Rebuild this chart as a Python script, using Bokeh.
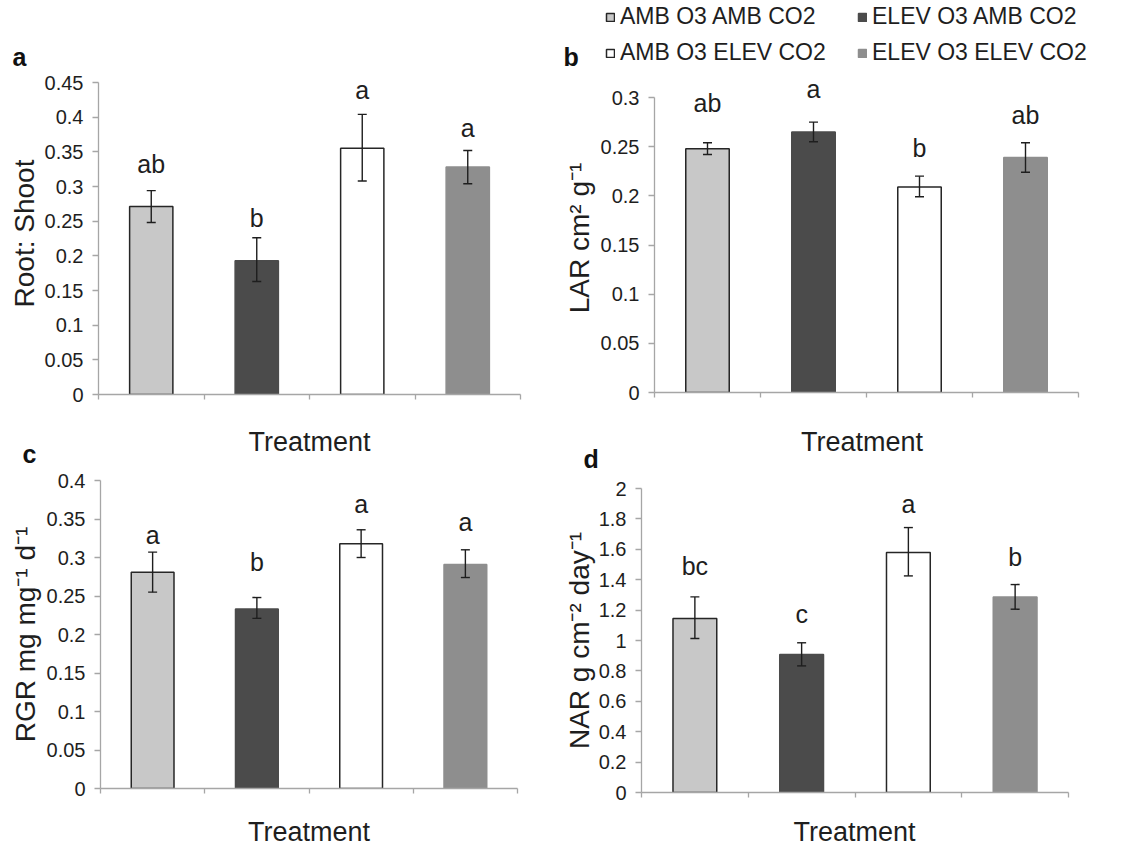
from bokeh.plotting import figure
from bokeh.models import (Range1d, FixedTicker, CustomJSTickFormatter, ColumnDataSource,
                          Whisker, TeeHead, Legend, LegendItem, Label)
from bokeh.layouts import row, column
from bokeh.embed import file_html
from bokeh.resources import INLINE
from bokeh.core.properties import value

FONT = "Liberation Sans"

# ---------------- data ----------------
treatments = ["AMB O3 AMB CO2", "ELEV O3 AMB CO2", "AMB O3 ELEV CO2", "ELEV O3 ELEV CO2"]
fill_colors = ["#c8c8c8", "#4b4b4b", "#ffffff", "#8e8e8e"]
line_colors = ["#262626", "#4b4b4b", "#262626", "#8e8e8e"]

# a: Root:Shoot
rs_mean = [0.271, 0.193, 0.355, 0.328]
rs_low = [0.248, 0.163, 0.308, 0.304]
rs_high = [0.294, 0.226, 0.404, 0.352]
rs_letters = ["ab", "b", "a", "a"]
rs_letter_y = [0.319, 0.241, 0.426, 0.372]
rs_ticks = [0, 0.05, 0.1, 0.15, 0.2, 0.25, 0.3, 0.35, 0.4, 0.45]

# b: LAR
lar_mean = [0.248, 0.265, 0.209, 0.239]
lar_low = [0.242, 0.255, 0.199, 0.224]
lar_high = [0.254, 0.275, 0.220, 0.254]
lar_letters = ["ab", "a", "b", "ab"]
lar_letter_y = [0.285, 0.299, 0.239, 0.273]
lar_ticks = [0, 0.05, 0.1, 0.15, 0.2, 0.25, 0.3]

# c: RGR
rgr_mean = [0.281, 0.233, 0.318, 0.291]
rgr_low = [0.255, 0.221, 0.300, 0.274]
rgr_high = [0.307, 0.248, 0.336, 0.310]
rgr_letters = ["a", "b", "a", "a"]
rgr_letter_y = [0.318, 0.283, 0.358, 0.335]
rgr_ticks = [0, 0.05, 0.1, 0.15, 0.2, 0.25, 0.3, 0.35, 0.4]

# d: NAR
nar_mean = [1.145, 0.908, 1.579, 1.287]
nar_low = [1.013, 0.833, 1.425, 1.206]
nar_high = [1.287, 0.985, 1.743, 1.368]
nar_letters = ["bc", "c", "a", "b"]
nar_letter_y = [1.428, 1.112, 1.836, 1.493]
nar_ticks = [0, 0.2, 0.4, 0.6, 0.8, 1, 1.2, 1.4, 1.6, 1.8, 2]

x_label = "Treatment"
AXIS_GRAY = "#a6a6a6"
TEXT = "#1e1e1e"


def make_panel(mean, low, high, letters, letter_y, ticks, ylabel,
               width, height, b_left, b_right, b_top, b_bottom, pad, ylabel_standoff):
    frame_h = height - b_top - b_bottom
    y_end = ticks[-1] * frame_h / (frame_h - pad)   # head-room for letters above top tick
    p = figure(width=width, height=height, output_backend="svg", toolbar_location=None,
               x_range=Range1d(0, len(mean)), y_range=Range1d(0, y_end),
               min_border_left=b_left, min_border_right=b_right,
               min_border_top=b_top, min_border_bottom=b_bottom)
    p.outline_line_color = None
    p.xgrid.visible = False
    p.ygrid.visible = False
    p.background_fill_color = "white"
    p.border_fill_color = "white"

    xs = [i + 0.5 for i in range(len(mean))]
    src = ColumnDataSource(dict(x=xs, top=mean, lower=low, upper=high,
                                fill=fill_colors, line=line_colors,
                                letters=letters, ly=letter_y))
    p.vbar(x="x", top="top", bottom=0, width=0.41, fill_color="fill",
           line_color="line", line_width=1.5, source=src)
    w = Whisker(base="x", lower="lower", upper="upper", source=src, level="overlay",
                line_color=TEXT, line_width=1.4,
                upper_head=TeeHead(size=9, line_color=TEXT, line_width=1.4),
                lower_head=TeeHead(size=9, line_color=TEXT, line_width=1.4))
    p.add_layout(w)
    p.text(x="x", y="ly", text="letters", source=src, text_align="center",
           text_baseline="alphabetic", y_offset=-9, text_font=value(FONT),
           text_font_size="25px", text_color=TEXT)

    ya = p.yaxis[0]
    ya.ticker = FixedTicker(ticks=ticks)
    ya.bounds = (0, ticks[-1])
    ya.formatter = CustomJSTickFormatter(code="return String(Number(tick.toFixed(3)));")
    ya.axis_line_color = AXIS_GRAY
    ya.axis_line_width = 1.3
    ya.major_tick_line_color = AXIS_GRAY
    ya.major_tick_line_width = 1.3
    ya.major_tick_out = 6
    ya.major_tick_in = 0
    ya.minor_tick_line_color = None
    ya.major_label_text_font = FONT
    ya.major_label_text_font_size = "20px"
    ya.major_label_text_color = TEXT
    ya.major_label_standoff = 9
    ya.axis_label = ylabel
    ya.axis_label_text_font = FONT
    ya.axis_label_text_font_size = "28px"
    ya.axis_label_text_font_style = "normal"
    ya.axis_label_text_color = TEXT
    ya.axis_label_standoff = ylabel_standoff

    xa = p.xaxis[0]
    xa.ticker = FixedTicker(ticks=list(range(len(mean) + 1)))
    xa.formatter = CustomJSTickFormatter(code="return '';")
    xa.axis_line_color = AXIS_GRAY
    xa.axis_line_width = 1.3
    xa.major_tick_line_color = AXIS_GRAY
    xa.major_tick_line_width = 1.3
    xa.major_tick_out = 5
    xa.major_tick_in = 0
    xa.minor_tick_line_color = None
    xa.major_label_text_font_size = "1px"
    xa.major_label_standoff = 0
    return p, src


def strip(width, height):
    s = figure(width=width, height=height, output_backend="svg", toolbar_location=None,
               x_axis_type=None, y_axis_type=None,
               x_range=Range1d(0, width), y_range=Range1d(height, 0),
               min_border_left=0, min_border_right=0, min_border_top=0, min_border_bottom=0)
    s.outline_line_color = None
    s.xgrid.visible = False
    s.ygrid.visible = False
    s.background_fill_color = "white"
    s.border_fill_color = "white"
    return s


def txt(s, text, x, y, size, bold=False, align="left"):
    s.add_layout(Label(x=x, y=y, text=text, text_font=FONT, text_font_size=size,
                       text_font_style="bold" if bold else "normal",
                       text_color=TEXT if not bold else "#111111",
                       text_baseline="middle", text_align=align))


# ---------------- panels ----------------
pa, src_a = make_panel(rs_mean, rs_low, rs_high, rs_letters, rs_letter_y, rs_ticks,
                       "Root: Shoot", 560, 339, 98, 40, 1, 16, 10, 2)
pb, src_b = make_panel(lar_mean, lar_low, lar_high, lar_letters, lar_letter_y, lar_ticks,
                       "LAR cm² g⁻¹", 585, 338, 85, 67, 11, 18, 14, 3)
pc, src_c = make_panel(rgr_mean, rgr_low, rgr_high, rgr_letters, rgr_letter_y, rgr_ticks,
                       "RGR mg mg⁻¹ d⁻¹", 560, 332, 100, 43, 12, 12, 0, 3)
pd, src_d = make_panel(nar_mean, nar_low, nar_high, nar_letters, nar_letter_y, nar_ticks,
                       "NAR g cm⁻² day⁻¹", 585, 330, 80, 77, 13, 13, 0, 1)

# ---------------- text strips ----------------
s_a = strip(560, 71)
txt(s_a, "a", 12, 56, "25px", bold=True)

s_ac = strip(560, 58)
txt(s_ac, x_label, 309, 31.5, "27px", align="center")
txt(s_ac, "c", 22, 43.5, "25px", bold=True)

s_c = strip(560, 47)
txt(s_c, x_label, 308.5, 31.5, "27px", align="center")

s_leg = strip(585, 72)
txt(s_leg, "b", 3, 56, "25px", bold=True)
dummy = s_leg.vbar(x="x", top="top", bottom=0, width=0.41, fill_color="fill",
                   line_color="line", line_width=1.5, source=src_b)
dummy.visible = False
order = [0, 2, 1, 3]
items = [LegendItem(label=treatments[i], renderers=[dummy], index=i) for i in order]
legend = Legend(items=items, ncols=2, location=(45, 6), glyph_width=10, glyph_height=10,
                label_text_font=FONT, label_text_font_size="23px", label_text_color=TEXT,
                label_standoff=5, label_width=228, spacing=9, padding=0, margin=0,
                border_line_color=None, background_fill_alpha=0)
s_leg.add_layout(legend)

s_bd = strip(585, 65)
txt(s_bd, x_label, 301.5, 31.5, "27px", align="center")
txt(s_bd, "d", 23, 48, "25px", bold=True)

s_d = strip(585, 42)
txt(s_d, x_label, 294, 26.5, "27px", align="center")

# each element wrapped on its own so that Bokeh does not align their borders
left = column(*[column(e) for e in (s_a, pa, s_ac, pc, s_c)])
right = column(*[column(e) for e in (s_leg, pb, s_bd, pd, s_d)])
layout = row(left, right)

with open("out.html", "w") as f:
    f.write(file_html(layout, INLINE))
